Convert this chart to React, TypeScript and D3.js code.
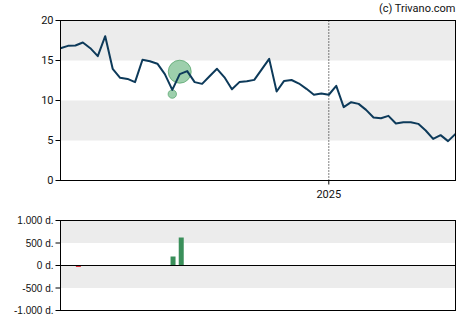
import React from "react";
import * as d3 from "d3";

const prices: number[] = [
  16.54, 16.83, 16.87, 17.25, 16.54, 15.54, 18.04, 13.96, 12.83, 12.7,
  12.3, 15.1, 14.9, 14.6, 13.3, 11.33, 13.3, 13.67, 12.3, 12.08,
  13.04, 13.96, 12.9, 11.4, 12.3, 12.4, 12.58, 13.9, 15.2, 11.12,
  12.45, 12.56, 12.12, 11.46, 10.72, 10.88, 10.72, 11.83, 9.17, 9.79,
  9.58, 8.83, 7.88, 7.79, 8.08, 7.13, 7.29, 7.29, 7.08, 6.25,
  5.2, 5.67, 4.92, 5.83,
];
const yearTickIndex = 36;
const yearTickLabel = "2025";
const priceTicks = [0, 5, 10, 15, 20];

const tradeIndex = [2.4, 15.1, 16.2];
const tradeValue = [-30, 200, 622];
const bubbleIndex = [15, 16];
const bubblePrice = [10.8, 13.6];
const bubbleSize = [200, 622];

const volTicks = [1000, 500, 0, -500, -1000];
const volLabels = ["1.000 d.", "500 d.", "0 d.", "-500 d.", "-1.000 d."];

const W = 470, H = 325;
const L = 60.5, R = 455.5;
const T1 = 20.5, B1 = 180.5;
const T2 = 220.5, B2 = 310.5;

export default function App() {
  const x = d3.scaleLinear().domain([0, prices.length - 1]).range([L, R]);
  const y = d3.scaleLinear().domain([0, 20]).range([B1, T1]);
  const yv = d3.scaleLinear().domain([-1000, 1000]).range([B2, T2]);
  const r = d3.scaleLinear().domain([0, 622]).range([0, 11.5]);
  const line = d3
    .line<number>()
    .x((_, i) => x(i))
    .y((d) => y(d));

  const font1 = "Roboto, 'Liberation Sans', sans-serif";
  const font2 = "'Liberation Sans', Arial, sans-serif";
  const bandColor = "#ececec";

  return (
    <svg width={W} height={H} style={{ position: "absolute", left: 0, top: 0 }}>
      <rect x={0} y={0} width={W} height={H} fill="#fff" />
      <rect x={L} y={y(20)} width={R - L} height={y(15) - y(20)} fill={bandColor} />
      <rect x={L} y={y(10)} width={R - L} height={y(5) - y(10)} fill={bandColor} />
      <line
        x1={x(yearTickIndex)}
        x2={x(yearTickIndex)}
        y1={T1}
        y2={B1}
        stroke="#000"
        strokeWidth={1}
        strokeDasharray="1,2"
      />
      {bubbleIndex.map((bi, i) => (
        <circle
          key={i}
          cx={x(bi)}
          cy={y(bubblePrice[i])}
          r={Math.max(4.2, r(bubbleSize[i]))}
          fill="rgba(60,160,90,0.5)"
          stroke="rgba(60,150,85,0.6)"
          strokeWidth={1}
        />
      ))}
      <path d={line(prices) || ""} fill="none" stroke="#0d3a5a" strokeWidth={2} strokeLinejoin="round" />
      <rect x={L} y={T1} width={R - L} height={B1 - T1} fill="none" stroke="#000" strokeWidth={1} />
      {priceTicks.map((t) => (
        <g key={t}>
          <line x1={L - 5} x2={L} y1={y(t)} y2={y(t)} stroke="#000" />
          <text
            x={L - 7}
            y={y(t)}
            dy="0.36em"
            textAnchor="end"
            fontFamily={font1}
            fontSize={11}
            fill="#111"
          >
            {t}
          </text>
        </g>
      ))}
      <line x1={x(yearTickIndex)} x2={x(yearTickIndex)} y1={B1} y2={B1 + 4} stroke="#000" />
      <text
        x={x(yearTickIndex)}
        y={B1 + 17}
        textAnchor="middle"
        fontFamily={font1}
        fontSize={11}
        fill="#111"
      >
        {yearTickLabel}
      </text>
      <text x={R} y={12} textAnchor="end" fontFamily={font1} fontSize={11} fill="#111">
        (c) Trivano.com
      </text>

      <rect x={L} y={yv(1000)} width={R - L} height={yv(500) - yv(1000)} fill={bandColor} />
      <rect x={L} y={yv(0)} width={R - L} height={yv(-500) - yv(0)} fill={bandColor} />
      {tradeIndex.map((ti, i) => {
        const v = tradeValue[i];
        const y0 = yv(0), y1 = yv(v);
        return (
          <rect
            key={i}
            x={x(ti) - 2.5}
            y={Math.min(y0, y1)}
            width={5}
            height={Math.max(1.5, Math.abs(y1 - y0))}
            fill={v < 0 ? "#e0303a" : "#3a8f5a"}
          />
        );
      })}
      <line x1={L} x2={R} y1={yv(0)} y2={yv(0)} stroke="#000" />
      <rect x={L} y={T2} width={R - L} height={B2 - T2} fill="none" stroke="#000" strokeWidth={1} />
      {volTicks.map((t, i) => (
        <g key={t}>
          <line x1={L - 5} x2={L} y1={yv(t)} y2={yv(t)} stroke="#000" />
          <text
            x={L - 7}
            y={yv(t)}
            dy="0.36em"
            textAnchor="end"
            fontFamily={font2}
            fontSize={10}
            fill="#111"
          >
            {volLabels[i]}
          </text>
        </g>
      ))}
    </svg>
  );
}
